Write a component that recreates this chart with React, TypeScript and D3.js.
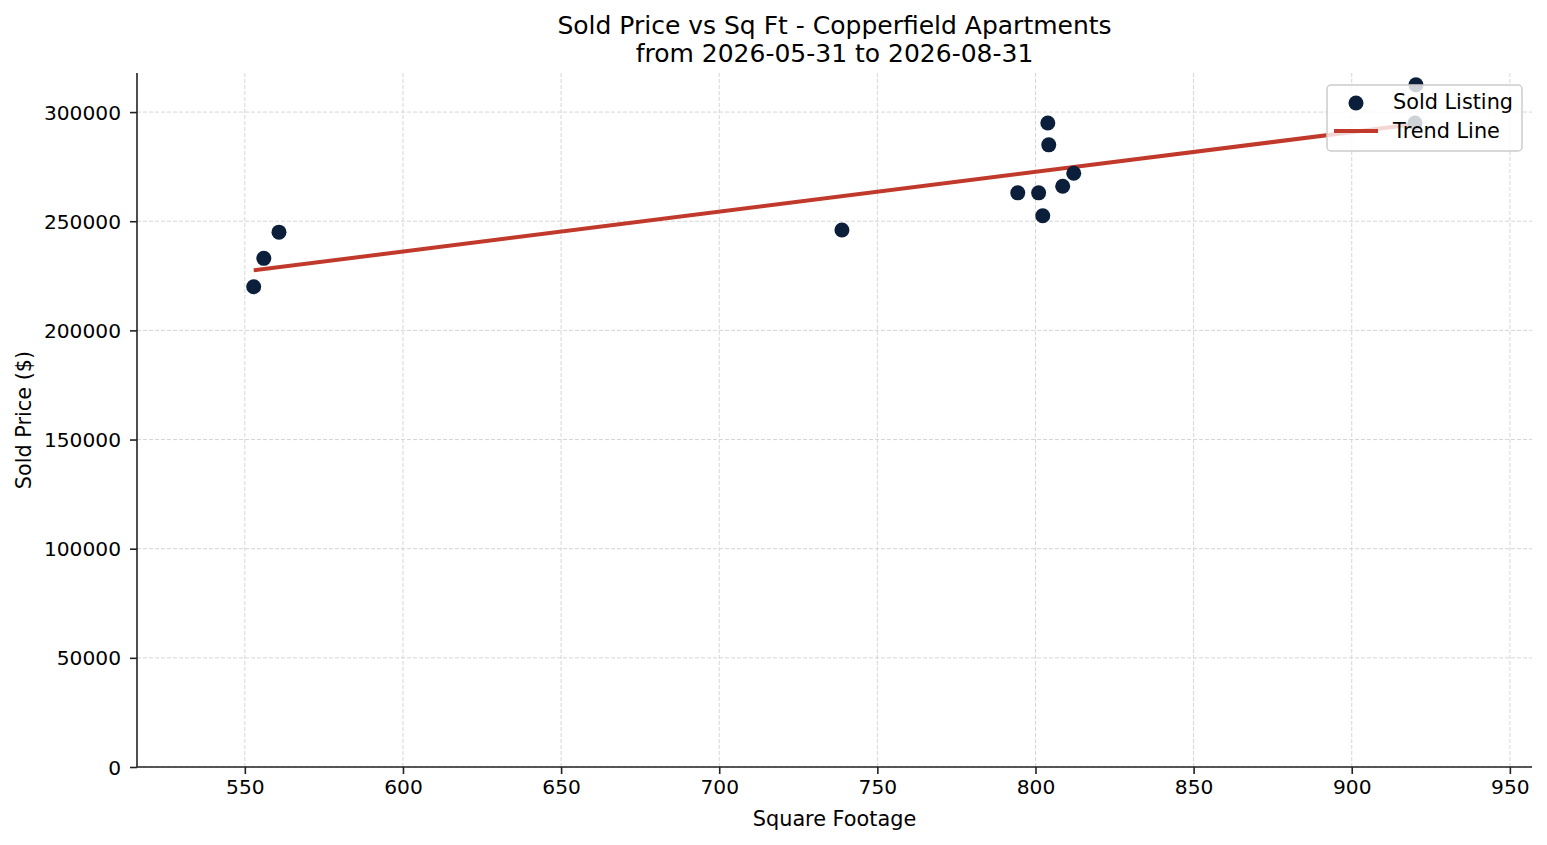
import { useEffect, useRef } from "react";
import * as d3 from "d3";

// sold listings: square footage and sold price ($)
const sqft = [552.8, 556, 560.8, 738.8, 794.4, 801, 802.3, 803.9, 804.2, 808.6, 812.1, 920.3, 920];
const price = [220000, 233000, 245000, 246000, 263000, 263000, 252500, 295000, 285000, 266000, 272000, 312500, 295000];
const xTicks = [550, 600, 650, 700, 750, 800, 850, 900, 950];
const yTicks = [0, 50000, 100000, 150000, 200000, 250000, 300000];
const titleLines = ["Sold Price vs Sq Ft - Copperfield Apartments", "from 2026-05-31 to 2026-08-31"];

const FONT = "DejaVu Sans, sans-serif";
const NAVY = "#0b1f3a";
const RED = "#c0392b";
const FS = 20.8;

export default function App() {
    const svgRef = useRef<SVGSVGElement | null>(null);

    useEffect(() => {
        if (!svgRef.current) return;
        const m = { left: 137, right: 1532, top: 73, bottom: 767 };
        const svg = d3.select(svgRef.current);
        svg.selectAll("*").remove();

        const x = d3.scaleLinear().domain([515.9, 957]).range([m.left, m.right]);
        const y = d3.scaleLinear().domain([0, 317900]).range([m.bottom, m.top]);

        // grid
        const grid = svg.append("g").attr("stroke", "#d6d6d6").attr("stroke-width", 1).attr("stroke-dasharray", "4,2");
        xTicks.forEach(t => grid.append("line").attr("x1", x(t)).attr("x2", x(t)).attr("y1", m.top).attr("y2", m.bottom));
        yTicks.forEach(t => grid.append("line").attr("x1", m.left).attr("x2", m.right).attr("y1", y(t)).attr("y2", y(t)));

        // axes
        const xAxis = svg.append("g")
            .attr("transform", `translate(0,${m.bottom})`)
            .call(d3.axisBottom(x).tickValues(xTicks).tickFormat(d3.format("d")).tickSize(7).tickPadding(6));
        const yAxis = svg.append("g")
            .attr("transform", `translate(${m.left},0)`)
            .call(d3.axisLeft(y).tickValues(yTicks).tickFormat(d3.format("d")).tickSize(7).tickPadding(9));
        [xAxis, yAxis].forEach(a => {
            a.attr("font-size", 20.2).attr("font-family", FONT);
            a.selectAll("text").attr("fill", "#000");
            a.selectAll("line").attr("stroke", "#222").attr("stroke-width", 1.6);
            a.select(".domain").attr("stroke", "#222").attr("stroke-width", 1.6);
        });
        yAxis.selectAll("text").attr("dy", "0.35em");
        xAxis.select(".domain").attr("d", `M${m.left},0H${m.right}`);
        yAxis.select(".domain").attr("d", `M0,${m.bottom}V${m.top}`);

        // trend line (least squares fit)
        const mx = d3.mean(sqft) as number;
        const my = d3.mean(price) as number;
        const slope = d3.sum(sqft, (v, i) => (v - mx) * (price[i] - my)) / d3.sum(sqft, v => (v - mx) ** 2);
        const [x0, x1] = d3.extent(sqft) as [number, number];
        const trend = [x0, x1].map(v => [v, my + slope * (v - mx)] as [number, number]);
        svg.append("path")
            .datum(trend)
            .attr("fill", "none")
            .attr("stroke", RED)
            .attr("stroke-width", 4)
            .attr("d", d3.line().x(d => x(d[0])).y(d => y(d[1])));

        // points
        svg.append("g").selectAll("circle")
            .data(sqft)
            .join("circle")
            .attr("cx", d => x(d))
            .attr("cy", (d, i) => y(price[i]))
            .attr("r", 7.5)
            .attr("fill", NAVY);

        // titles
        titleLines.forEach((t, i) => {
            svg.append("text")
                .attr("x", (m.left + m.right) / 2)
                .attr("y", 34 + i * 28)
                .attr("text-anchor", "middle")
                .attr("font-family", FONT)
                .attr("font-size", 25)
                .text(t);
        });
        svg.append("text")
            .attr("x", (m.left + m.right) / 2)
            .attr("y", 826)
            .attr("text-anchor", "middle")
            .attr("font-family", FONT)
            .attr("font-size", FS)
            .text("Square Footage");
        svg.append("text")
            .attr("transform", `translate(31,${(m.top + m.bottom) / 2}) rotate(-90)`)
            .attr("text-anchor", "middle")
            .attr("font-family", FONT)
            .attr("font-size", FS)
            .text("Sold Price ($)");

        // legend
        const lg = svg.append("g").attr("transform", "translate(1327,85)");
        lg.append("rect")
            .attr("width", 195).attr("height", 66).attr("rx", 4)
            .attr("fill", "white").attr("fill-opacity", 0.8)
            .attr("stroke", "#cccccc").attr("stroke-width", 1.5);
        lg.append("circle").attr("cx", 29).attr("cy", 18).attr("r", 7.5).attr("fill", NAVY);
        lg.append("line").attr("x1", 7).attr("x2", 51).attr("y1", 46).attr("y2", 46).attr("stroke", RED).attr("stroke-width", 4);
        ["Sold Listing", "Trend Line"].forEach((t, i) => {
            lg.append("text")
                .attr("x", 66).attr("y", 24 + i * 29)
                .attr("font-family", FONT).attr("font-size", FS)
                .text(t);
        });
    }, []);

    return <svg ref={svgRef} width={1547} height={845} style={{ position: "absolute", left: 0, top: 0, background: "white" }} />;
}
